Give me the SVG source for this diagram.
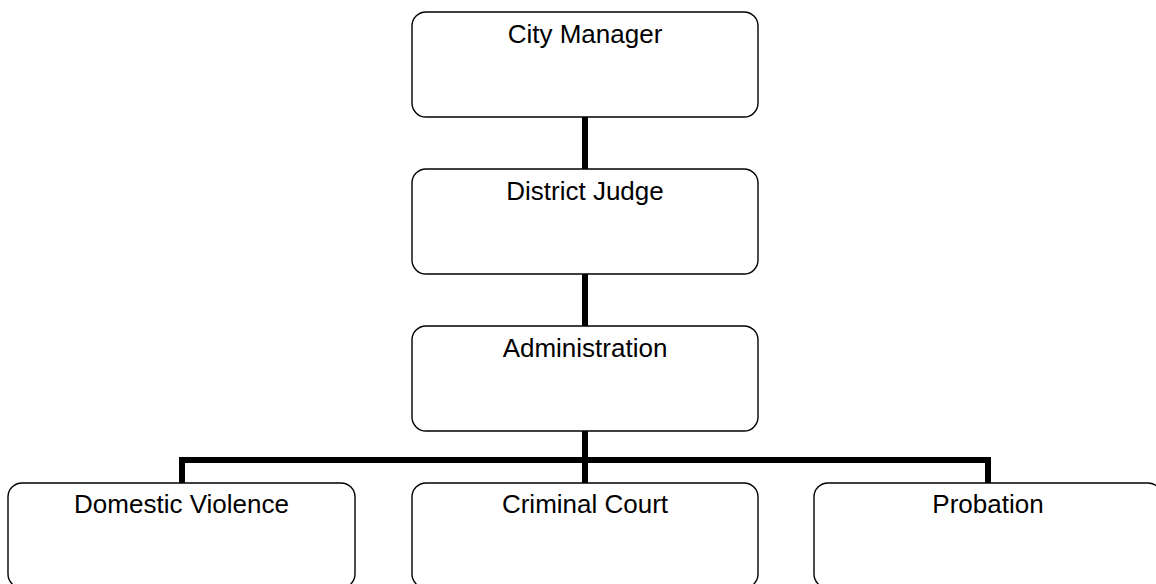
<svg xmlns="http://www.w3.org/2000/svg" width="1156" height="584" viewBox="0 0 1156 584">
<style>
.box{fill:#fff;stroke:#000;stroke-width:1.4}
.lbl{font-family:"Liberation Sans",Arial,sans-serif;font-size:26px;fill:#000;text-anchor:middle}
.conn{fill:none;stroke:#000;stroke-width:6;stroke-linejoin:miter}
</style>
<rect width="1156" height="584" fill="#fff"/>
<g id="connectors">
<line class="conn" x1="585" y1="117" x2="585" y2="169"/>
<line class="conn" x1="585" y1="274" x2="585" y2="326"/>
<line class="conn" x1="585" y1="431" x2="585" y2="483"/>
<polyline class="conn" points="182,483 182,460 988,460 988,483"/>
</g>
<g id="city-manager">
<rect class="box" x="412" y="12" width="346" height="105" rx="14"/>
<text class="lbl" x="585" y="43">City Manager</text>
</g>
<g id="district-judge">
<rect class="box" x="412" y="169" width="346" height="105" rx="14"/>
<text class="lbl" x="585" y="200">District Judge</text>
</g>
<g id="administration">
<rect class="box" x="412" y="326" width="346" height="105" rx="14"/>
<text class="lbl" x="585" y="357">Administration</text>
</g>
<g id="domestic-violence">
<rect class="box" x="8" y="483" width="347" height="105" rx="14"/>
<text class="lbl" x="181.5" y="513">Domestic Violence</text>
</g>
<g id="criminal-court">
<rect class="box" x="412" y="483" width="346" height="105" rx="14"/>
<text class="lbl" x="585" y="513">Criminal Court</text>
</g>
<g id="probation">
<rect class="box" x="814" y="483" width="348" height="105" rx="14"/>
<text class="lbl" x="988" y="513">Probation</text>
</g>
</svg>
